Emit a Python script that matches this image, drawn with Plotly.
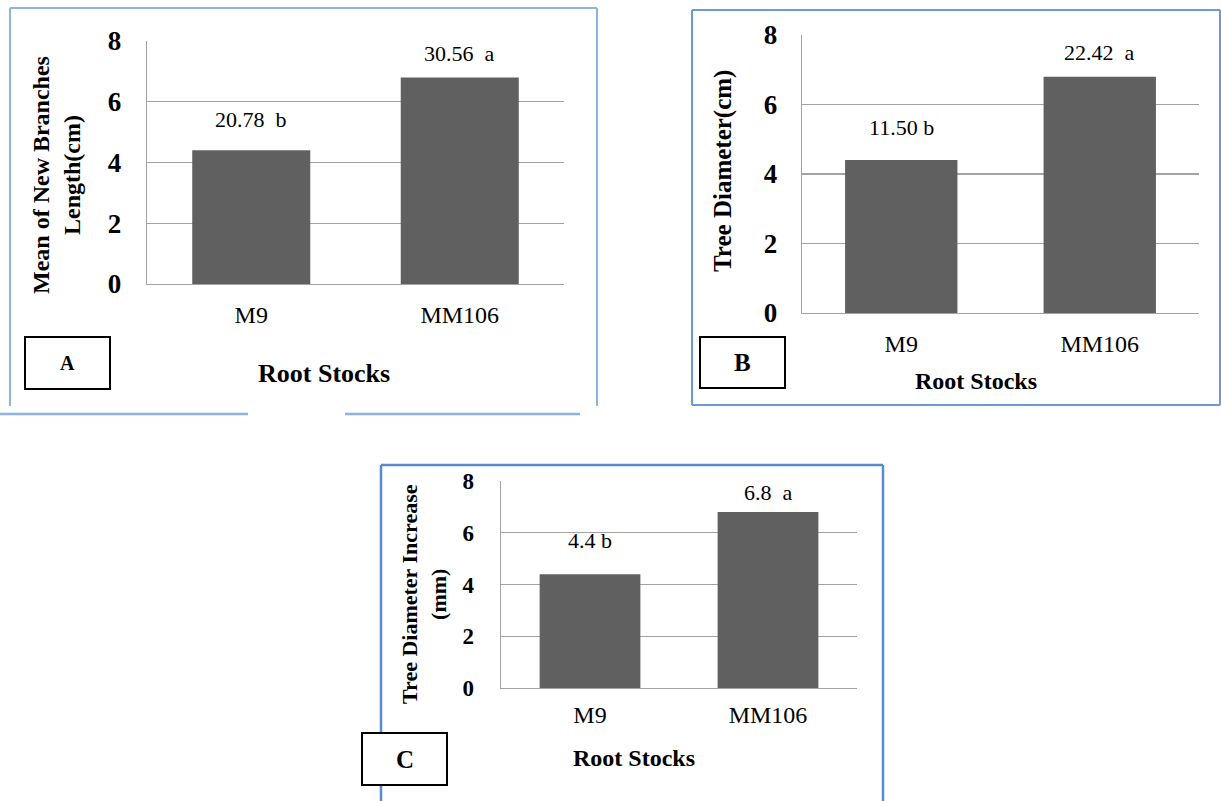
import plotly.graph_objects as go

W, H = 1221, 801

# ---------------- data ----------------
categories = ["M9", "MM106"]
values_a = [4.4, 6.8]
values_b = [4.4, 6.8]
values_c = [4.4, 6.8]
labels_a = ["20.78\u00a0 b", "30.56\u00a0 a"]
labels_b = ["11.50 b", "22.42\u00a0 a"]
labels_c = ["4.4 b", "6.8\u00a0 a"]
y_ticks = [0, 2, 4, 6, 8]
title_a = "Mean of New Branches<br>Length(cm)"
title_b = "Tree Diameter(cm)"
title_c = "Tree Diameter Increase<br>(mm)"
x_title = "Root Stocks"
panel_names = ["A", "B", "C"]

SERIF = "Liberation Serif"
BAR = "#606060"
GRID = "#a3a3a3"


def px(x):
    return x / W


def py(y):
    return 1 - y / H


panels = [
    dict(vals=values_a, labs=labels_a, ytitle=title_a,
         xd=[px(147), px(564)], yd=[py(284), py(41)],
         tick=27, xtick=24, yt=(57, 175, 24), rs=(324, 373, 26),
         shifts=[31, 24], box=(25, 337, 110, 389, 20),
         ysoff=19, xsoff=9),
    dict(vals=values_b, labs=labels_b, ytitle=title_b,
         xd=[px(802), px(1199)], yd=[py(313), py(35)],
         tick=27, xtick=24, yt=(723, 171, 25), rs=(976, 381, 24),
         shifts=[33, 24], box=(700, 337, 785, 388, 25),
         ysoff=18, xsoff=9),
    dict(vals=values_c, labs=labels_c, ytitle=title_c,
         xd=[px(501), px(857)], yd=[py(688), py(481)],
         tick=23, xtick=24, yt=(424, 594, 22), rs=(634, 758, 24),
         shifts=[34, 20], box=(362, 733, 447, 785, 25),
         ysoff=21, xsoff=5),
]

fig = go.Figure()
layout = dict(width=W, height=H,
              margin=dict(l=0, r=0, t=0, b=0, pad=0, autoexpand=False),
              paper_bgcolor="white", plot_bgcolor="white",
              showlegend=False)
annotations = []
shapes = []

for i, p in enumerate(panels):
    n = "" if i == 0 else str(i + 1)
    xa, ya = "x" + n, "y" + n
    fig.add_trace(go.Bar(x=categories, y=p["vals"], xaxis=xa, yaxis=ya,
                         marker=dict(color=BAR, line=dict(width=0)),
                         width=0.566, hoverinfo="skip"))
    layout["xaxis" + n] = dict(
        domain=p["xd"], anchor=ya, type="category", range=[-0.5, 1.5],
        showgrid=False, showline=True, linecolor=GRID, linewidth=1.3,
        ticks="", ticklabelstandoff=p["xsoff"], automargin=False,
        tickfont=dict(family=SERIF, size=p["xtick"], color="black"),
        fixedrange=True)
    layout["yaxis" + n] = dict(
        domain=p["yd"], anchor=xa, range=[0, 8], tickvals=y_ticks,
        showgrid=True, gridcolor=GRID, gridwidth=1.3, zeroline=False,
        showline=True, linecolor=GRID, linewidth=1.3, automargin=False,
        ticks="", ticklabelstandoff=p["ysoff"],
        tickfont=dict(family=SERIF, size=p["tick"], color="black",
                      weight="bold"),
        fixedrange=True)
    # bar value labels
    for c, v, t, s in zip(categories, p["vals"], p["labs"], p["shifts"]):
        annotations.append(dict(x=c, y=v, xref=xa, yref=ya, text=t,
                                showarrow=False, yanchor="middle",
                                yshift=s,
                                font=dict(family=SERIF, size=22,
                                          color="black")))
    # y title
    yx, yy, ys = p["yt"]
    annotations.append(dict(x=px(yx), y=py(yy), xref="paper", yref="paper",
                            text="<b>" + p["ytitle"].replace("<br>", "</b><br><b>") + "</b>",
                            textangle=-90, showarrow=False,
                            xanchor="center", yanchor="middle",
                            font=dict(family=SERIF, size=ys, color="black")))
    # x title
    rx, ry, rs = p["rs"]
    annotations.append(dict(x=px(rx), y=py(ry), xref="paper", yref="paper",
                            text="<b>" + x_title + "</b>", showarrow=False,
                            xanchor="center", yanchor="middle",
                            font=dict(family=SERIF, size=rs, color="black")))
    # panel letter box
    bx0, by0, bx1, by1, bfs = p["box"]
    shapes.append(dict(type="rect", xref="paper", yref="paper",
                       x0=px(bx0), x1=px(bx1), y0=py(by1), y1=py(by0),
                       line=dict(color="black", width=2),
                       fillcolor="white", layer="above"))
    annotations.append(dict(x=px((bx0 + bx1) / 2), y=py((by0 + by1) / 2),
                            xref="paper", yref="paper",
                            text="<b>" + panel_names[i] + "</b>",
                            showarrow=False, xanchor="center",
                            yanchor="middle",
                            font=dict(family=SERIF, size=bfs, color="black")))


def line(x0, y0, x1, y1, color, w=2):
    shapes.append(dict(type="line", xref="paper", yref="paper",
                       x0=px(x0), y0=py(y0), x1=px(x1), y1=py(y1),
                       line=dict(color=color, width=w), layer="below"))


# panel frames
ca, cb, cc = "#8db3e2", "#6f9ad0", "#5a8acb"
line(10, 8, 597, 8, ca)
line(10, 8, 10, 406, ca)
line(597, 8, 597, 406, ca)
line(0, 414, 248, 414, ca, 2.5)
line(345, 414, 580, 414, ca, 2.5)

line(692, 10, 1220, 10, cb)
line(692, 10, 692, 405, cb)
line(1220, 10, 1220, 405, cb)
line(692, 405, 1220, 405, cb)

line(381, 465, 883, 465, cc, 2.5)
line(381, 465, 381, 801, cc, 2.5)
line(883, 465, 883, 801, cc, 2.5)

layout["annotations"] = annotations
layout["shapes"] = shapes
fig.update_layout(**layout)

post = ("document.body.style.margin='0';"
        "document.body.style.overflow='hidden';"
        "var d=document.getElementById('{plot_id}');"
        "d.style.position='absolute';d.style.left='0px';d.style.top='0px';")
fig.write_html("out.html", post_script=post,
               config={"displayModeBar": False, "staticPlot": True})
